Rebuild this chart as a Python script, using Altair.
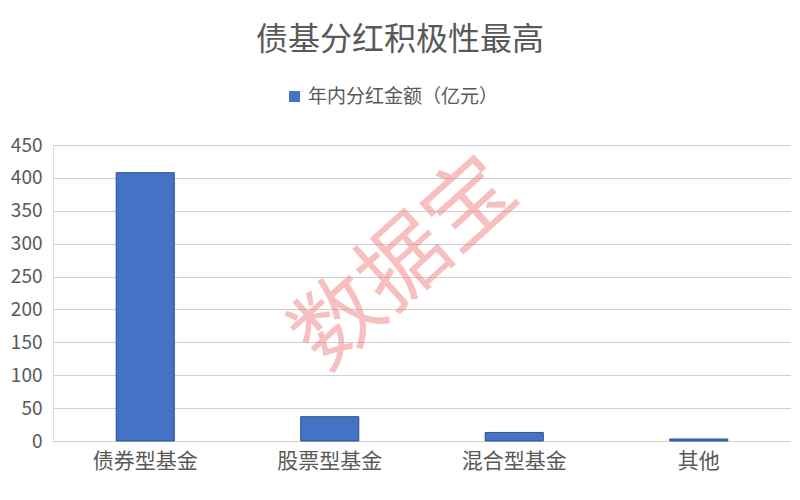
import altair as alt
import pandas as pd

categories = ["债券型基金", "股票型基金", "混合型基金", "其他"]
values = [408, 37, 13, 3]
series_name = "年内分红金额（亿元）"
title_text = "债基分红积极性最高"
watermark = "数据宝"
y_ticks = [0, 50, 100, 150, 200, 250, 300, 350, 400, 450]

df = pd.DataFrame({"类别": categories, "金额": values, "系列": [series_name] * len(categories)})

FONT = "Noto Sans CJK SC"
W, H = 738, 296

wm = alt.Chart(pd.DataFrame({"t": [watermark]})).mark_text(
    fontSize=88, font=FONT, color="#F08080", opacity=0.5, angle=318,
    align="center", baseline="middle"
).encode(text="t:N", x=alt.value(W / 2 - 16), y=alt.value(120))

bars = alt.Chart(df).mark_bar(color="#4472C4", stroke="#2F528F", strokeWidth=1).encode(
    x=alt.X("类别:N", sort=categories, title=None,
            scale=alt.Scale(paddingInner=0.685, paddingOuter=0.3425),
            axis=alt.Axis(labelAngle=0, labelFontSize=21, labelColor="#595959", labelFont=FONT,
                          ticks=False, domain=True, domainColor="#D0D0D0", labelPadding=9, grid=False)),
    y=alt.Y("金额:Q", title=None,
            scale=alt.Scale(domain=[0, 450], nice=False),
            axis=alt.Axis(values=y_ticks, labelFontSize=19, labelColor="#595959", labelFont=FONT,
                          ticks=False, domain=False, gridColor="#D0D0D0", gridWidth=1, labelPadding=11)),
    fill=alt.Fill("系列:N", scale=alt.Scale(range=["#4472C4"]),
                  legend=alt.Legend(title=None, orient="none", legendX=232, legendY=-58,
                                    symbolType="square", symbolSize=120, labelFontSize=19,
                                    labelLimit=400,
                                    labelColor="#595959", labelFont=FONT, symbolStrokeWidth=0)),
)

chart = alt.layer(wm, bars).properties(
    width=W, height=H,
    title=alt.TitleParams(title_text, fontSize=32, font=FONT, color="#595959", fontWeight="normal",
                          anchor="middle", dx=-22, offset=30),
    autosize=alt.AutoSizeParams(type="none"),
    padding={"left": 45, "top": 137, "right": 0, "bottom": 45},
).configure_view(stroke=None).configure(background="white")

chart.save("out.html", embed_options={"renderer": "svg", "actions": False})
